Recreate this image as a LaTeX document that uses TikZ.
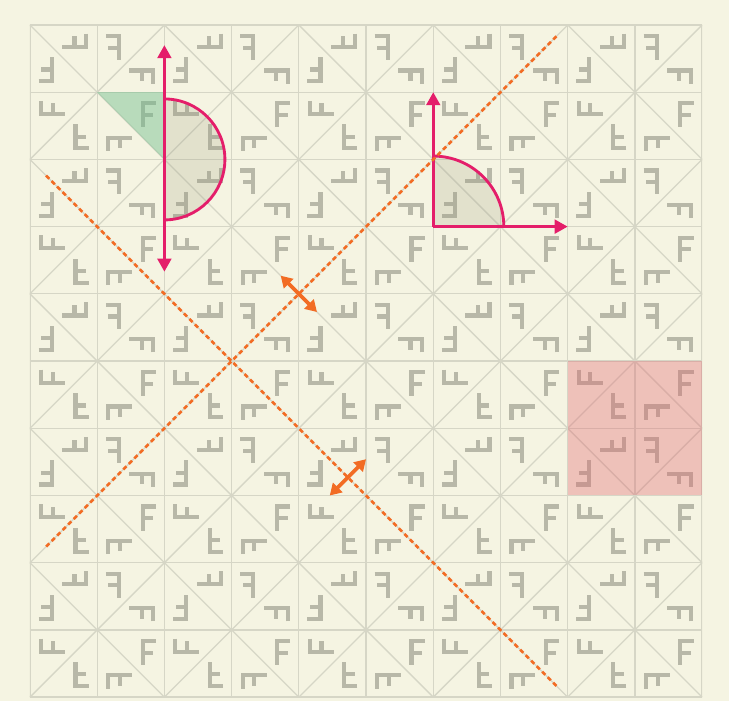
\documentclass[tikz,border=0pt]{standalone}
\usepackage{tikz}
\usepackage{xcolor}
\usetikzlibrary{arrows.meta}
\definecolor{paper}{RGB}{245,244,226}
\definecolor{gridgray}{RGB}{214,214,198}
\definecolor{ink}{RGB}{184,184,168}
\definecolor{rosered}{RGB}{228,30,106}
\definecolor{tangerine}{RGB}{242,108,36}
\definecolor{patchred}{RGB}{225,100,110}
\definecolor{patchgreen}{RGB}{110,190,140}
\definecolor{veil}{RGB}{150,150,120}

\begin{document}
\begin{tikzpicture}[x=1cm,y=1cm,
  gridline/.style={draw=gridgray,line width=0.55pt},
  glyphline/.style={draw=ink,line width=1.75pt,line join=miter},
  mirrorline/.style={draw=tangerine,line width=1.15pt,dash pattern=on 1.9pt off 1.4pt},
  shiftarrow/.style={draw=tangerine,line width=1.6pt,{Triangle[length=4.8pt,width=5.5pt]}-{Triangle[length=4.8pt,width=5.5pt]}},
  axisline/.style={draw=rosered,line width=1.2pt},
  onetip/.style={-{Triangle[length=5.5pt,width=5.8pt]}},
  twotips/.style={{Triangle[length=5.5pt,width=5.8pt]}-{Triangle[length=5.5pt,width=5.8pt]}}]

\fill[paper] (-0.446,-0.06) rectangle (10.40,10.372);

\begin{scope}
\clip (0,0) rectangle (10,10);
\foreach \x in {1,3,...,9}
  \foreach \y in {0,2,...,10}
    \foreach \a in {0,90,180,270} {
      \begin{scope}[shift={(\x,\y)},rotate=\a]
        \draw[glyphline] (0.872,0.836) -- (0.677,0.836) -- (0.677,0.479) (0.677,0.662) -- (0.833,0.662);
        \draw[glyphline,cm={0,-1,-1,0,(1,1)}] (0.872,0.836) -- (0.677,0.836) -- (0.677,0.479) (0.677,0.662) -- (0.833,0.662);
      \end{scope}}
\foreach \k in {0,...,10} {
  \draw[gridline] (\k,0) -- (\k,10);
  \draw[gridline] (0,\k) -- (10,\k);}
\foreach \c in {-10,-8,...,10}
  \draw[gridline] (\c,0) -- ++(10,10);
\foreach \c in {0,2,...,20}
  \draw[gridline] (\c,0) -- ++(-10,10);
\end{scope}

\fill[patchred,fill opacity=0.35] (8,3) rectangle (10,5);
\fill[patchgreen,fill opacity=0.45] (1,9) -- (2,9) -- (2,8) -- cycle;

\coordinate (axis) at (2,8);
\coordinate (pivot) at (6,7);
\fill[veil,fill opacity=0.2] (2,8.9) arc[start angle=90,end angle=-90,radius=0.9] -- cycle;
\draw[axisline] (2,8.9) arc[start angle=90,end angle=-90,radius=0.9];
\draw[axisline,twotips] ([yshift=1.7cm]axis) -- ([yshift=-1.67cm]axis);

\fill[veil,fill opacity=0.2] (pivot) -- ++(1.05,0) arc[start angle=0,end angle=90,radius=1.05] -- cycle;
\draw[axisline] ([xshift=1.05cm]pivot) arc[start angle=0,end angle=90,radius=1.05];
\draw[axisline,onetip] (pivot) -- ++(0,2);
\draw[axisline,onetip] (pivot) -- ++(2,0);

\draw[mirrorline] (0.24,2.24) -- (7.84,9.84);
\draw[mirrorline] (0.24,7.76) -- (7.84,0.16);
\draw[shiftarrow] (3.73,6.27) -- (4.27,5.73);
\draw[shiftarrow] (4.46,3.0) -- (5.0,3.54);
\end{tikzpicture}
\end{document}
